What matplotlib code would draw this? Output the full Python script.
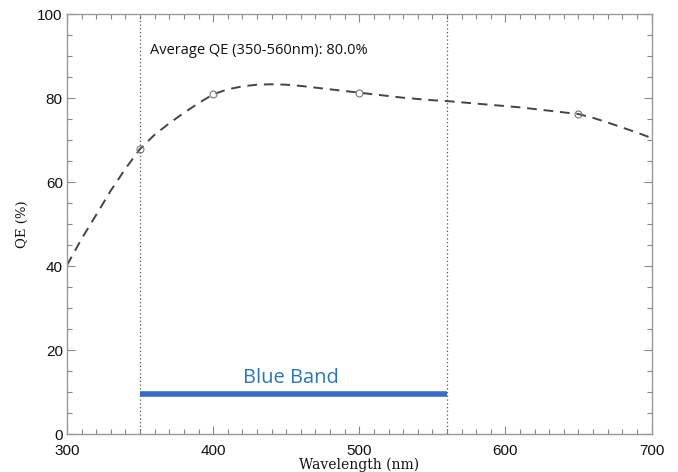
import matplotlib
matplotlib.use("Agg")
import matplotlib.pyplot as plt
from matplotlib.ticker import MultipleLocator

# ======================= DATA =======================

wavelength = [300, 310, 320, 330, 340, 350, 360, 370, 380, 390, 400,
              410, 420, 430, 440, 450, 460, 470, 480, 490, 500,
              510, 520, 530, 540, 550, 560, 570, 580, 590, 600,
              610, 620, 630, 640, 650, 660, 670, 680, 690, 700]
qe_curve = [40.2, 46.5, 52.2, 58.0, 63.2, 67.9, 71.3, 74.0, 76.5, 78.8, 80.9,
            82.1, 82.8, 83.2, 83.3, 83.2, 82.9, 82.5, 82.1, 81.7, 81.3,
            80.9, 80.5, 80.1, 79.8, 79.5, 79.3, 79.0, 78.7, 78.4, 78.1,
            77.8, 77.4, 77.0, 76.6, 76.2, 75.3, 74.2, 73.0, 71.8, 70.5]

meas_wl = [350, 400, 500, 650]
meas_qe = [67.9, 81.0, 81.3, 76.2]

band = [350, 560]
band_level = 9.5
avg_text = "Average QE (350-560nm): 80.0%"
band_text = "Blue Band"

# ======================= PLOT =======================

fig = plt.figure(figsize=(6.78, 4.72), dpi=100)
ax = fig.add_axes([0.0988, 0.0805, 0.8622, 0.8895])

ax.plot(wavelength, qe_curve, color="#444444", lw=1.4, ls=(0, (5, 3.5)))
ax.plot(meas_wl, meas_qe, ls="none", marker="o", ms=5, mfc="none",
        mec="#777777", mew=0.8)

for b in band:
    ax.axvline(b, color="#555555", lw=0.9, ls=(0, (1, 2)))

ax.plot(band, [band_level, band_level], color="#3a6bc4", lw=4,
        solid_capstyle="butt")
ax.text(453, band_level + 1.5, band_text, color="#2e75b6", fontsize=14.5,
        family="Open Sans", ha="center", va="bottom")
ax.text(357, 91.4, avg_text, color="#111111", fontsize=10.5,
        family="Open Sans", ha="left", va="center")

ax.set_xlim(300, 700)
ax.set_ylim(0, 100)
ax.xaxis.set_major_locator(MultipleLocator(100))
ax.xaxis.set_minor_locator(MultipleLocator(10))
ax.yaxis.set_major_locator(MultipleLocator(20))
ax.yaxis.set_minor_locator(MultipleLocator(5))

ax.tick_params(which="both", direction="in", top=True, right=True,
               color="#888888", labelsize=11, labelcolor="#111111")
ax.tick_params(axis="x", which="both", pad=7)
ax.tick_params(axis="y", which="both", pad=3)
ax.tick_params(which="major", length=6, width=0.8)
ax.tick_params(which="minor", length=3.5, width=0.8)
for lab in ax.get_xticklabels() + ax.get_yticklabels():
    lab.set_family("Liberation Sans")
for s in ax.spines.values():
    s.set_color("#999999")
    s.set_linewidth(1.0)

ax.set_xlabel("Wavelength (nm)", family="DejaVu Serif", fontsize=10,
              labelpad=0, color="#111111")
ax.set_ylabel("QE (%)", family="DejaVu Serif", fontsize=9.5,
              labelpad=6, color="#111111")

fig.savefig("out.png", dpi=100)
